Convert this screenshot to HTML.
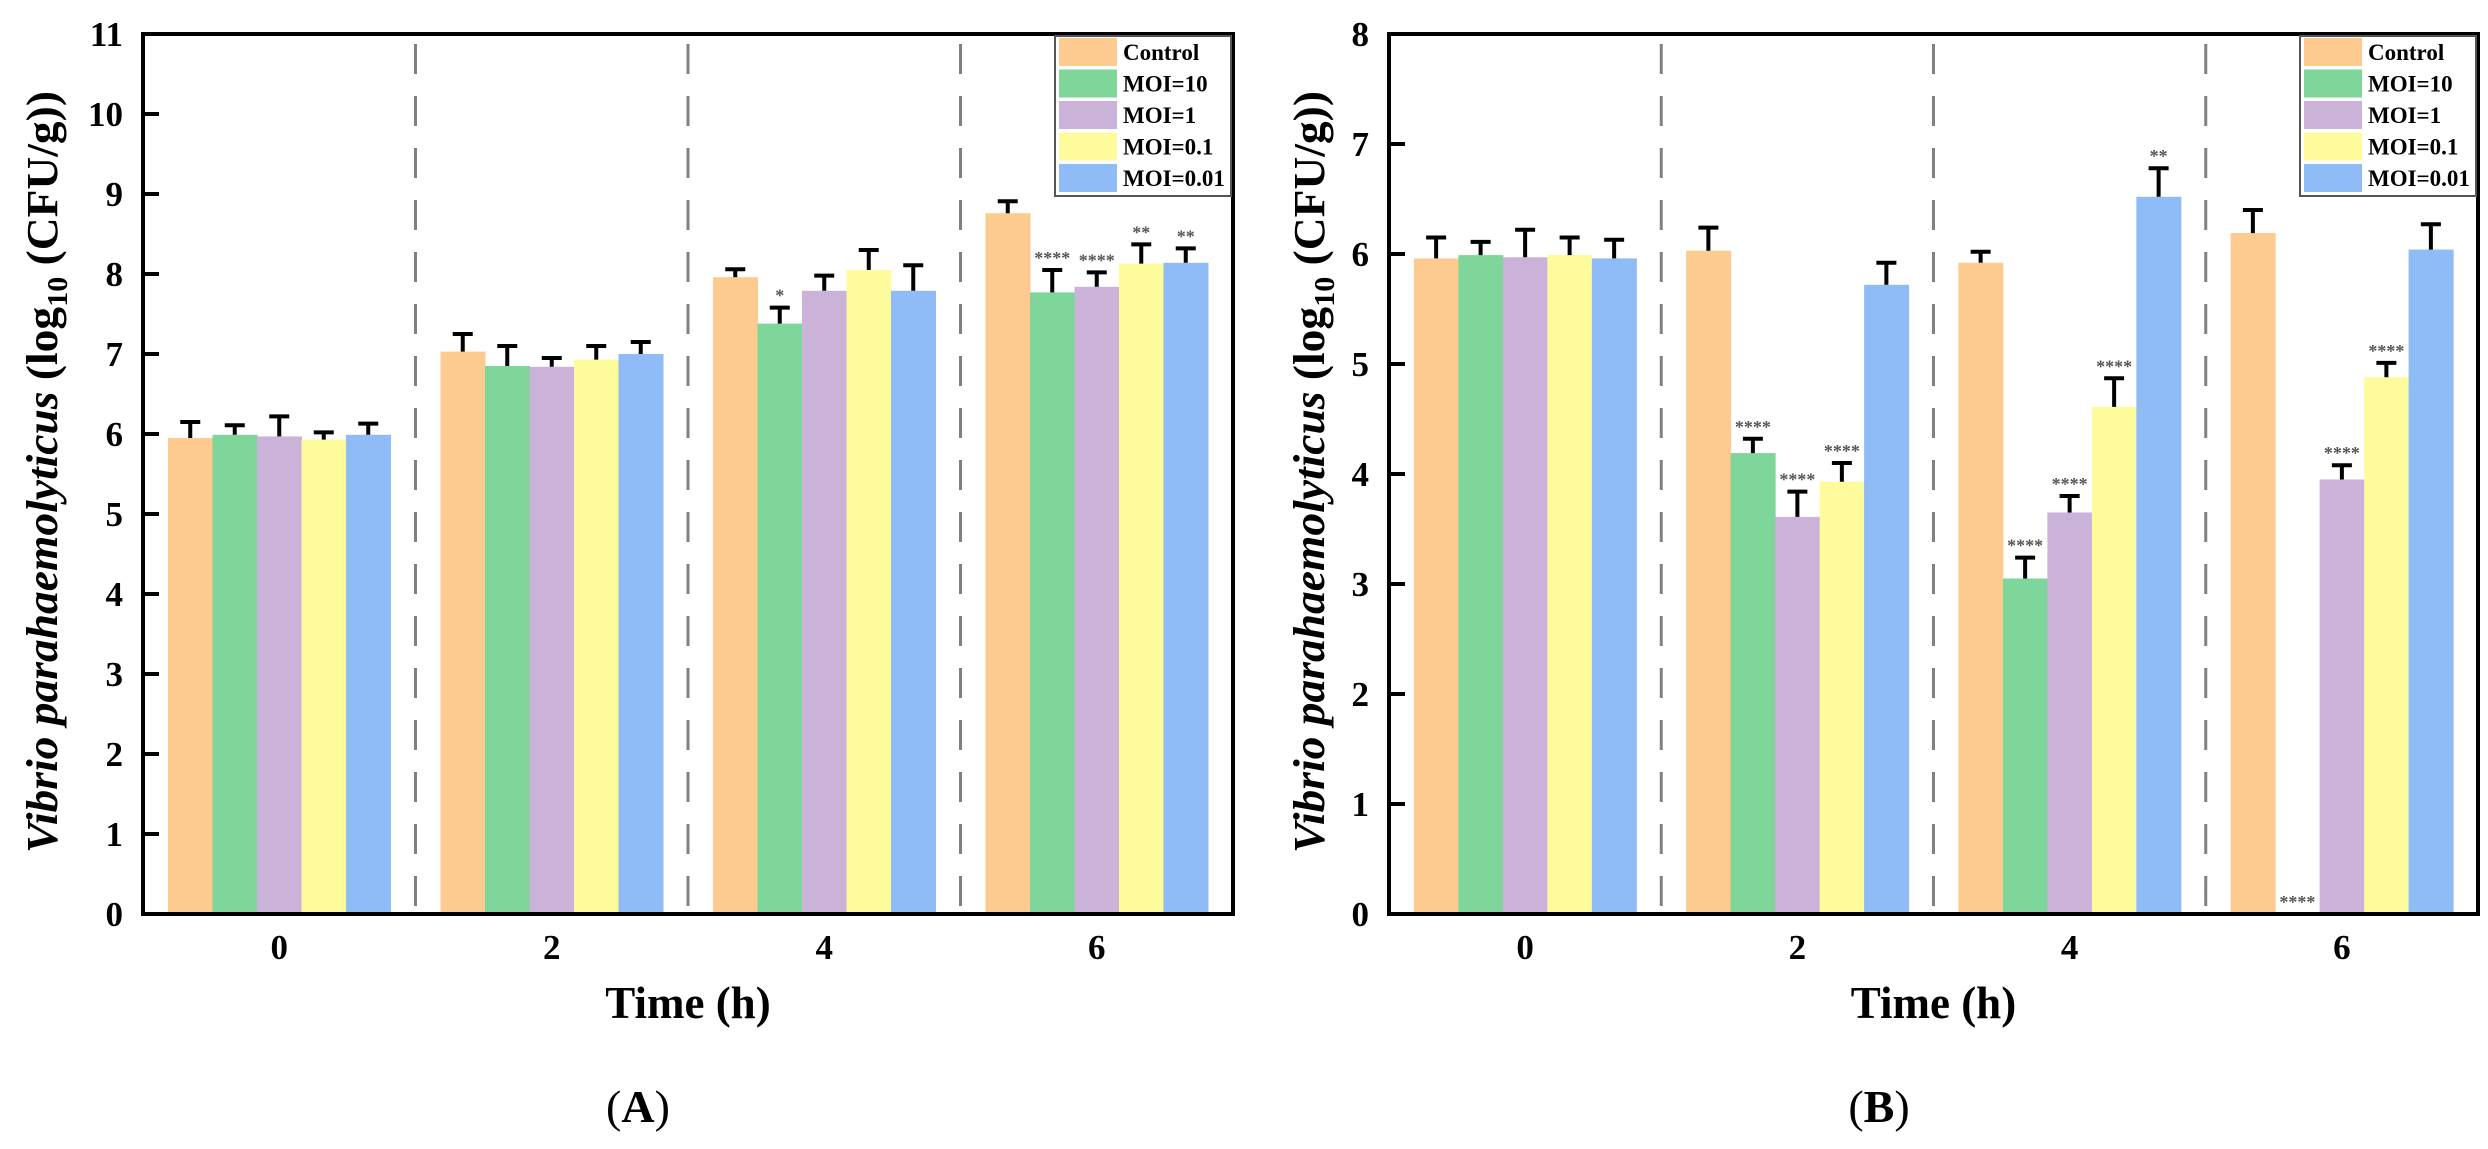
<!DOCTYPE html>
<html><head><meta charset="utf-8">
<style>
html,body{margin:0;padding:0;background:#fff;}
svg{display:block;font-family:"Liberation Serif",serif;}
</style></head>
<body>
<svg id="fig" width="2488" height="1149" viewBox="0 0 2488 1149" xmlns="http://www.w3.org/2000/svg"></svg>
<script>
const categories = ["0","2","4","6"];
const seriesNames = ["Control","MOI=10","MOI=1","MOI=0.1","MOI=0.01"];
const colors = ["#fdcb8f","#7ed69a","#cab2d8","#fdfb9b","#8fbbf6"];
// Panel A values (rows = series, cols = time)
const aControl = [5.95, 7.03, 7.96, 8.76];
const aMoi10   = [5.99, 6.85, 7.38, 7.77];
const aMoi1    = [5.97, 6.84, 7.79, 7.84];
const aMoi01   = [5.93, 6.93, 8.05, 8.13];
const aMoi001  = [5.99, 7.00, 7.79, 8.14];
const aErrControl = [0.20, 0.22, 0.10, 0.15];
const aErrMoi10   = [0.12, 0.25, 0.20, 0.28];
const aErrMoi1    = [0.25, 0.11, 0.19, 0.18];
const aErrMoi01   = [0.09, 0.17, 0.25, 0.24];
const aErrMoi001  = [0.14, 0.15, 0.32, 0.18];
const aSig = [["","","",""],["","","*","****"],["","","","****"],["","","","**"],["","","","**"]];
const aTicks = [0,1,2,3,4,5,6,7,8,9,10,11];
// Panel B values
const bControl = [5.96, 6.03, 5.92, 6.19];
const bMoi10   = [5.99, 4.19, 3.05, 0];
const bMoi1    = [5.97, 3.61, 3.65, 3.95];
const bMoi01   = [5.99, 3.93, 4.61, 4.88];
const bMoi001  = [5.96, 5.72, 6.52, 6.04];
const bErrControl = [0.19, 0.21, 0.10, 0.21];
const bErrMoi10   = [0.12, 0.13, 0.19, 0];
const bErrMoi1    = [0.25, 0.23, 0.15, 0.13];
const bErrMoi01   = [0.16, 0.17, 0.26, 0.13];
const bErrMoi001  = [0.17, 0.20, 0.26, 0.23];
const bSig = [["","","",""],["","****","****","****"],["","****","****","****"],["","****","****","****"],["","","**",""]];
const bTicks = [0,1,2,3,4,5,6,7,8];

const NS="http://www.w3.org/2000/svg";
const svg=document.getElementById('fig');
function mk(tag,attrs,parent){const e=document.createElementNS(NS,tag);for(const k in attrs)e.setAttribute(k,attrs[k]);(parent||svg).appendChild(e);return e;}

function panel(cfg){
  const g=mk('g',{});
  
  
  const L=cfg.left,R=cfg.right,T=34,B=914;
  const yS=v=>B-(v/cfg.ymax)*(B-T);
  const gw=(R-L)/4;
  const xC=i=>L+gw*(i+0.5);
  const bw=44.5;
  for(let i=1;i<4;i++){
    const d=mk('line',{x1:L+gw*i,x2:L+gw*i,y1:44,y2:B,stroke:'#808080','stroke-width':3,'stroke-dasharray':'30,22'},g);
    
    
  }
  const vals=cfg.values, errs=cfg.errors;
  for(let s=0;s<5;s++){
    for(let i=0;i<4;i++){
      const v=vals[s][i], e=errs[s][i];
      const x=xC(i)-2.5*bw+s*bw;
      if(v>0){
        const r=mk('rect',{x:x,y:yS(v),width:bw+0.5,height:B-yS(v),fill:colors[s]},g);
        
        
        const cx=x+bw/2;
        const eb=mk('path',{d:`M${cx},${yS(v)} V${yS(v+e)} M${cx-10},${yS(v+e)} H${cx+10}`,stroke:'#000','stroke-width':4,fill:'none'},g);
        
        
      }
      const sg=cfg.sig[s][i];
      if(sg){
        const ty=(v>0?yS(v+e)-6:B-6);
        const t=mk('text',{x:x+bw/2,y:ty,'text-anchor':'middle','font-size':18,fill:'#555','font-weight':'bold'},g);
        t.textContent=sg;
        
        
      }
    }
  }
  const f=mk('rect',{x:L,y:T,width:R-L,height:B-T,fill:'none',stroke:'#000','stroke-width':4},g);
  
  
  cfg.ticks.forEach(t=>{
    const y=yS(t);
    const tk=mk('line',{x1:L,x2:L+16,y1:y,y2:y,stroke:'#000','stroke-width':4},g);
    
    
    const tl=mk('text',{x:L-20,y:y+12,'text-anchor':'end','font-size':35,'font-weight':'bold'},g);
    tl.textContent=t;
    
    
  });
  categories.forEach((c,i)=>{
    const tl=mk('text',{x:xC(i),y:959,'text-anchor':'middle','font-size':35,'font-weight':'bold'},g);
    tl.textContent=c;
    
    
  });
  const xt=mk('text',{x:(L+R)/2,y:1018,'text-anchor':'middle','font-size':45,'font-weight':'bold'},g);
  xt.textContent='Time (h)';
  
  
  const yt=mk('text',{x:0,y:0,'text-anchor':'middle','font-size':44,'font-weight':'bold',textLength:762,lengthAdjust:'spacingAndGlyphs',transform:`translate(${cfg.ytx},472) rotate(-90)`},g);
  
  
  const s1=mk('tspan',{'font-style':'italic'},yt); s1.textContent='Vibrio parahaemolyticus';
  const s2=mk('tspan',{},yt); s2.textContent=' (log';
  const s3=mk('tspan',{'font-size':29,dy:10},yt); s3.textContent='10';
  const s4=mk('tspan',{dy:-10},yt); s4.textContent=' (CFU/g))';
  const lg=mk('g',{},g);
  
  
  const lx=R-178;
  mk('rect',{x:lx,y:36,width:176,height:160,fill:'#fff',stroke:'#555','stroke-width':2},lg);
  seriesNames.forEach((n,s)=>{
    const it=mk('g',{},lg);
    
    
    mk('rect',{x:lx+4,y:38+s*31.5,width:58,height:28,fill:colors[s]},it);
    const t=mk('text',{x:lx+68,y:38+s*31.5+22,'font-size':23,'font-weight':'bold'},it);
    t.textContent=n;
  });
  const cap=mk('text',{x:cfg.capx,y:1122,'text-anchor':'middle','font-size':46},g);
  
  
  const c1=mk('tspan',{},cap);c1.textContent='(';
  const c2=mk('tspan',{'font-weight':'bold'},cap);c2.textContent=cfg.label;
  const c3=mk('tspan',{},cap);c3.textContent=')';
}
panel({id:'a',left:143,right:1233,ymax:11,ticks:aTicks,
  values:[aControl,aMoi10,aMoi1,aMoi01,aMoi001],
  errors:[aErrControl,aErrMoi10,aErrMoi1,aErrMoi01,aErrMoi001],
  sig:aSig,ytx:57,capx:638,label:'A'});
panel({id:'b',left:1389,right:2478,ymax:8,ticks:bTicks,
  values:[bControl,bMoi10,bMoi1,bMoi01,bMoi001],
  errors:[bErrControl,bErrMoi10,bErrMoi1,bErrMoi01,bErrMoi001],
  sig:bSig,ytx:1324,capx:1879,label:'B'});
</script>
</body></html>
